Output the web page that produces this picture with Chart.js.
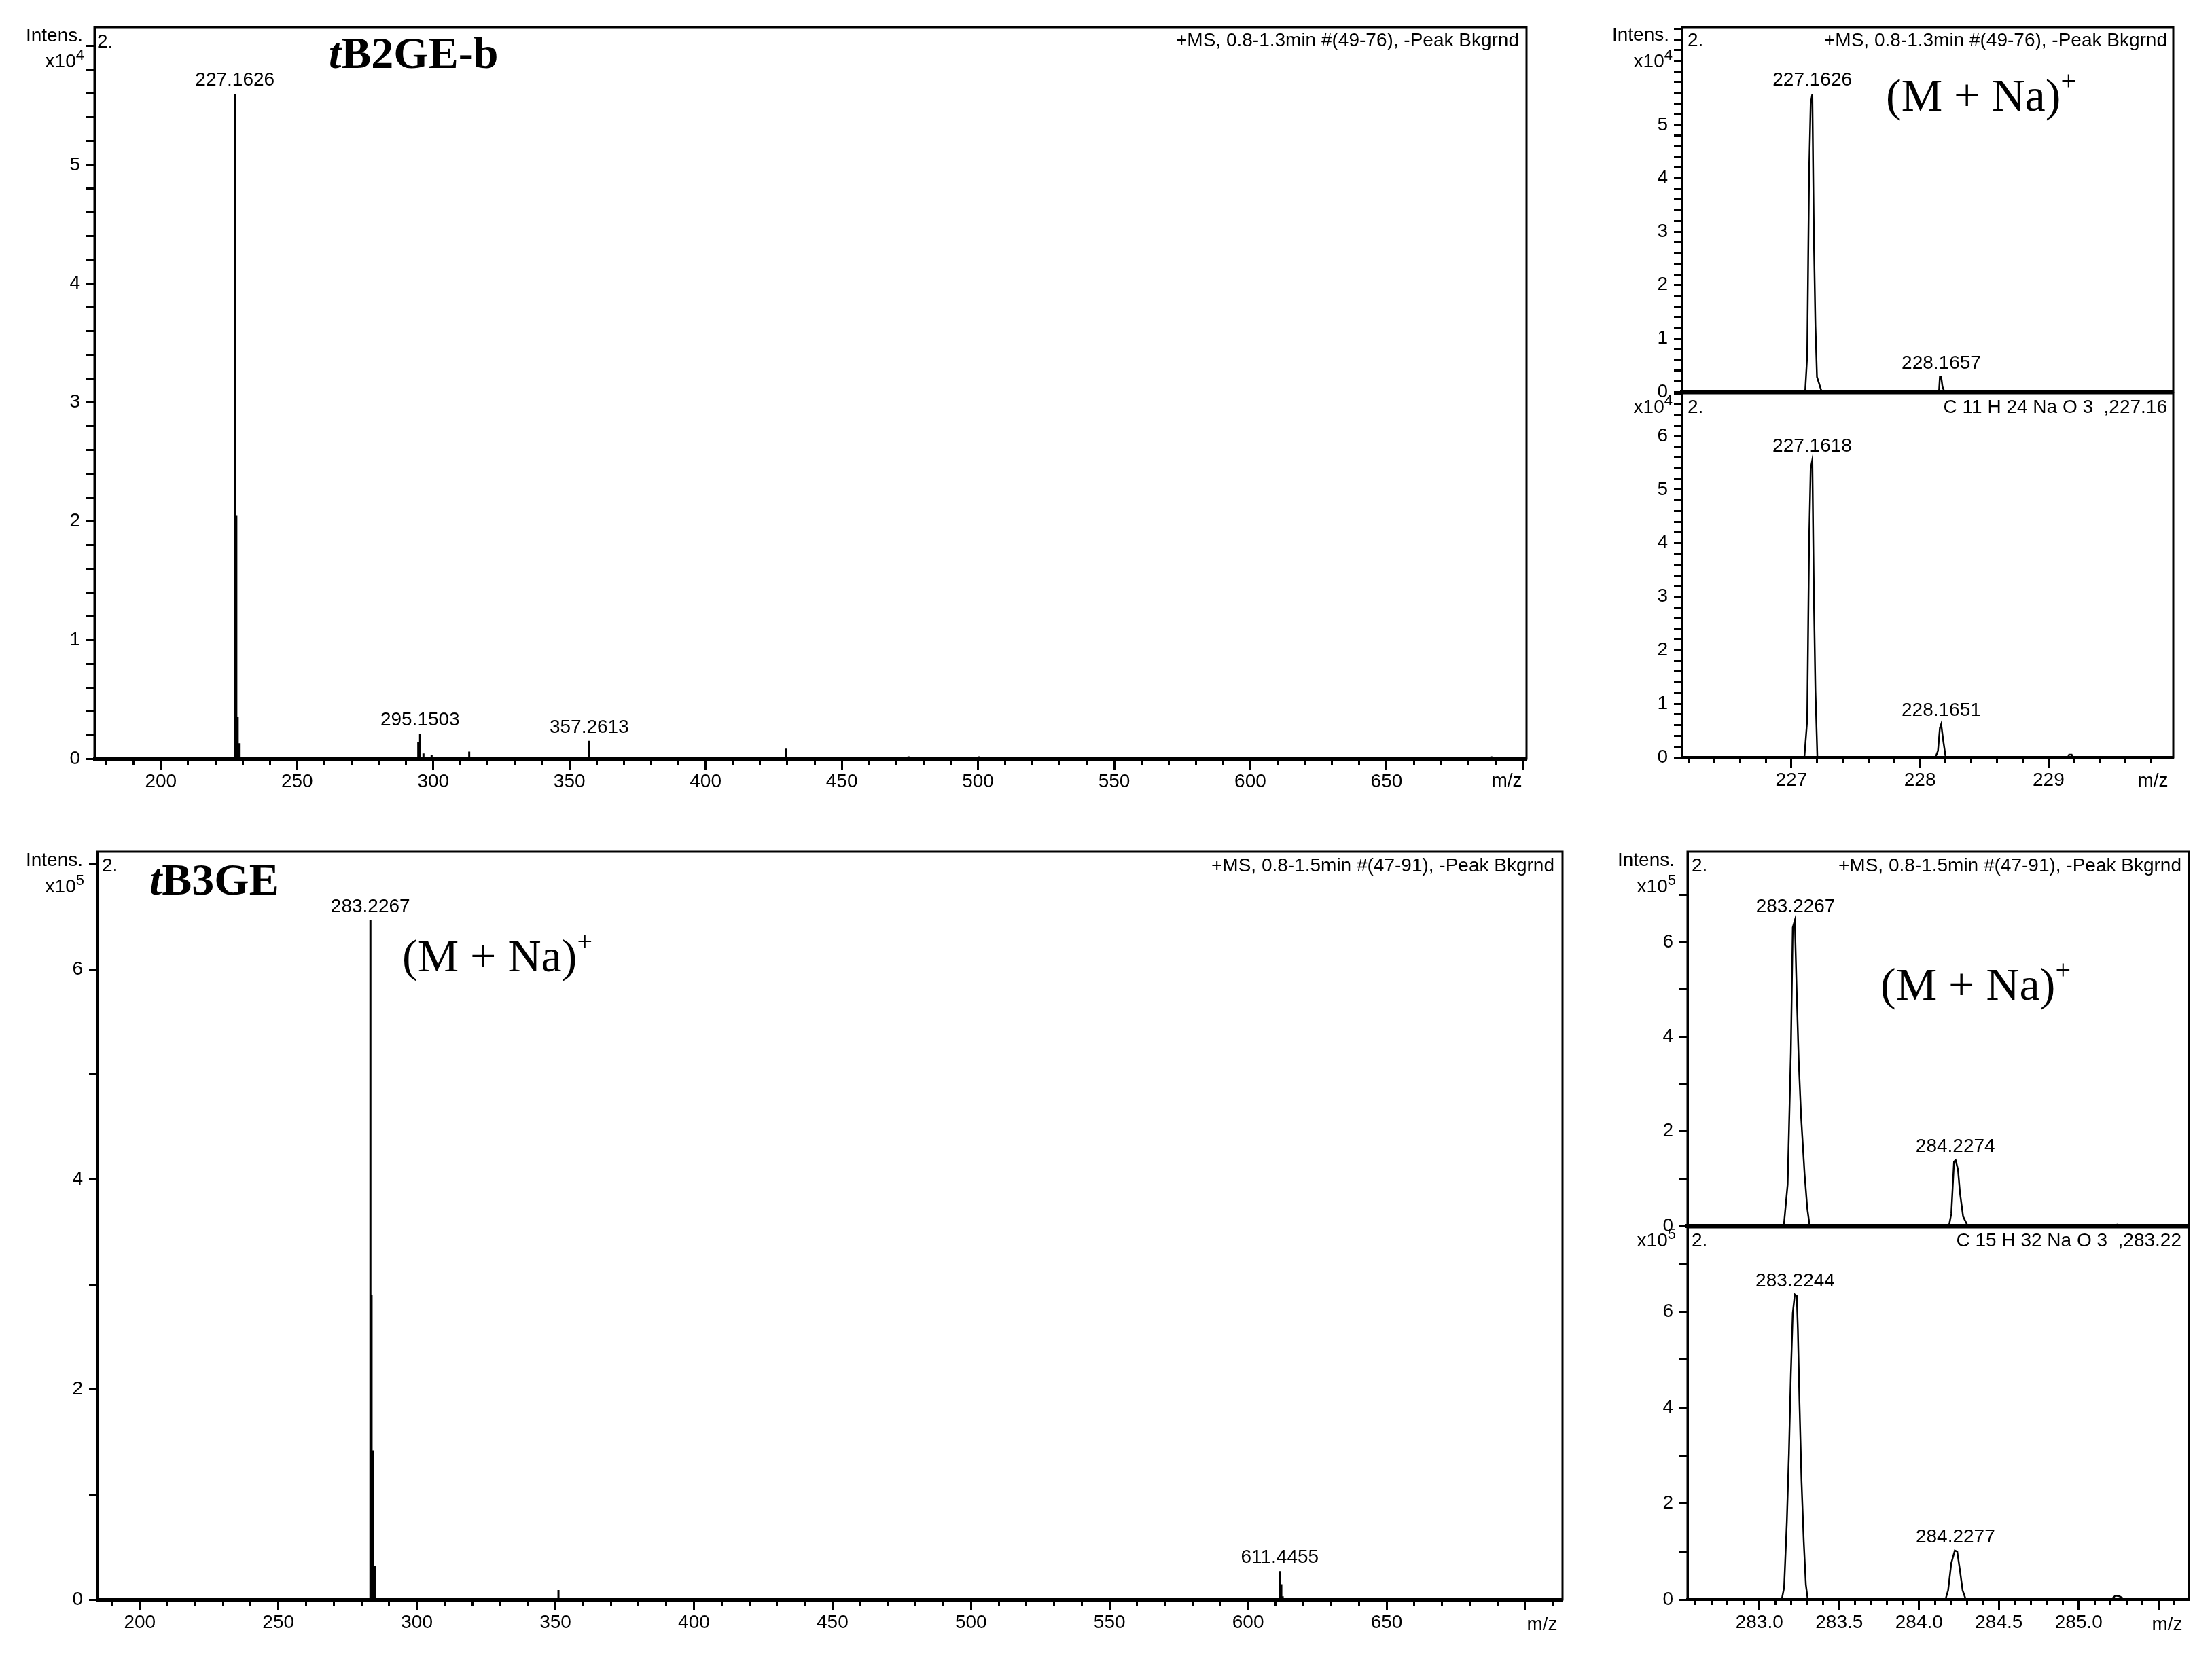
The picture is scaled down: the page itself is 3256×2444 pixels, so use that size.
<!DOCTYPE html>
<html>
<head>
<meta charset="utf-8">
<script src="https://cdn.jsdelivr.net/npm/chart.js@4.4.1/dist/chart.umd.min.js"></script>
<style>
  html, body { margin: 0; padding: 0; background: #fff; }
  #page { position: relative; width: 3256px; height: 2444px; overflow: hidden; background: #fff; }
  canvas { position: absolute; }
</style>
</head>
<body>
<div id="page"></div>
<script>
// ---- tB2GE-b, full scan (Intens. x10^4) ----
const mzA  = [227.16, 227.7, 228.2, 228.9, 273.3, 294.5, 295.15, 296.4, 298.0, 299.4, 313.2, 339.5, 343.5, 357.26, 358.3, 363.3, 429.4, 474.5, 500.3, 688.5];
const intA = [5.60, 2.05, 0.35, 0.13, 0.015, 0.14, 0.21, 0.045, 0.015, 0.03, 0.06, 0.017, 0.017, 0.15, 0.017, 0.017, 0.085, 0.02, 0.02, 0.02];
const labMzA  = [227.1626, 295.1503, 357.2613];
const labIntA = [5.60, 0.21, 0.15];

// ---- tB2GE-b, zoom measured (x10^4) ----
const mzB  = [227.107, 227.123, 227.138, 227.150, 227.163, 227.175, 227.187, 227.199, 227.236, 228.148, 228.155, 228.165, 228.175, 228.19];
const intB = [0, 0.68, 4.15, 5.40, 5.58, 2.87, 1.23, 0.28, 0, 0, 0.28, 0.28, 0.10, 0];
const labMzB  = [227.1626, 228.1657];
const labIntB = [5.58, 0.28];

// ---- tB2GE-b, simulated C11H24NaO3 (x10^4) ----
const mzC  = [227.101, 227.123, 227.138, 227.150, 227.163, 227.175, 227.187, 227.202, 228.12, 228.14, 228.155, 228.165, 228.18, 228.2, 229.15, 229.16, 229.18, 229.19];
const intC = [0, 0.70, 4.07, 5.40, 5.56, 2.99, 1.23, 0, 0, 0.12, 0.55, 0.62, 0.33, 0, 0, 0.05, 0.05, 0];
const labMzC  = [227.1618, 228.1651];
const labIntC = [5.56, 0.62];

// ---- tB3GE, full scan (x10^5) ----
const mzD  = [283.23, 283.65, 284.23, 285.0, 351.1, 355.2, 413.3, 611.45, 612.0, 612.5, 613.0];
const intD = [6.47, 2.90, 1.42, 0.32, 0.09, 0.02, 0.02, 0.27, 0.145, 0.03, 0.015];
const labMzD  = [283.2267, 611.4455];
const labIntD = [6.47, 0.27];

// ---- tB3GE, zoom measured (x10^5) ----
const mzE  = [283.153, 283.177, 283.185, 283.197, 283.209, 283.222, 283.234, 283.246, 283.261, 283.283, 283.300, 283.315,
              284.187, 284.202, 284.219, 284.229, 284.244, 284.256, 284.276, 284.305, 285.225, 285.24, 285.255];
const intE = [0, 0.88, 1.99, 3.66, 6.31, 6.46, 4.91, 3.52, 2.33, 1.10, 0.37, 0,
              0, 0.26, 1.36, 1.39, 1.19, 0.71, 0.20, 0, 0, 0.03, 0];
const labMzE  = [283.2267, 284.2274];
const labIntE = [6.46, 1.39];

// ---- tB3GE, simulated C15H32NaO3 (x10^5) ----
const mzF  = [283.140, 283.155, 283.172, 283.185, 283.197, 283.209, 283.222, 283.234, 283.241, 283.251, 283.264, 283.278, 283.291, 283.303,
              284.165, 284.182, 284.202, 284.224, 284.239, 284.256, 284.273, 284.293, 285.204, 285.229, 285.254, 285.29];
const intF = [0, 0.25, 1.62, 3.05, 4.69, 5.97, 6.36, 6.33, 5.64, 4.12, 2.46, 1.20, 0.31, 0,
              0, 0.19, 0.76, 1.02, 1.00, 0.61, 0.19, 0, 0, 0.08, 0.07, 0];
const labMzF  = [283.2244, 284.2277];
const labIntF = [6.36, 1.02];

const SANS = '"Liberation Sans", Arial, sans-serif';
const SERIF = '"Liberation Serif", "Times New Roman", serif';
Chart.defaults.font.family = SANS;
Chart.defaults.font.size = 28;
Chart.defaults.color = '#000';

const page = document.getElementById('page');

// text helpers
const txt = t => [{ t, f: '28px ' + SANS }];
const exp10 = e => [{ t: 'x10', f: '28px ' + SANS }, { t: e, f: '22px ' + SANS, dy: -9 }];
const ion = [{ t: '(M + Na)', f: '68px ' + SERIF }, { t: '+', f: '40px ' + SERIF, dy: -24 }];
const title = rest => [{ t: 't', f: 'italic bold 66px ' + SERIF }, { t: rest, f: 'bold 66px ' + SERIF }];

function drawRich(ctx, parts, x, y, align) {
  let w = 0;
  parts.forEach(p => { ctx.font = p.f; w += ctx.measureText(p.t).width; });
  let cx = align === 'right' ? x - w : align === 'center' ? x - w / 2 : x;
  ctx.textAlign = 'left';
  ctx.textBaseline = 'middle';
  parts.forEach(p => {
    ctx.font = p.f;
    ctx.fillText(p.t, cx, y + (p.dy || 0));
    cx += ctx.measureText(p.t).width;
  });
}

const textPlugin = {
  id: 'msText',
  afterDraw(chart, args, opts) {
    const ctx = chart.ctx;
    const a = chart.chartArea;
    ctx.save();
    ctx.strokeStyle = '#000';
    ctx.lineWidth = 3;
    ctx.strokeRect(a.left, a.top, a.right - a.left, a.bottom - a.top);
    ctx.fillStyle = '#000';
    (opts.items || []).forEach(it => drawRich(ctx, it.p, it.x - opts.ox, it.y - opts.oy, it.a));
    const xs = chart.scales.x, ys = chart.scales.y;
    ctx.font = '28px ' + SANS;
    ctx.textAlign = 'center';
    ctx.textBaseline = 'alphabetic';
    (opts.labMz || []).forEach((m, i) => {
      ctx.fillText(m.toFixed(4), xs.getPixelForValue(m), ys.getPixelForValue(opts.labInt[i]) - 12);
    });
    ctx.restore();
  }
};

function sticks(mz, inten, lo, hi) {
  const pts = [{ x: lo, y: 0 }];
  mz.forEach((m, i) => pts.push({ x: m, y: 0 }, { x: m, y: inten[i] }, { x: m, y: 0 }));
  pts.push({ x: hi, y: 0 });
  return pts;
}
function profile(mz, inten, lo, hi) {
  return [{ x: lo, y: 0 }].concat(mz.map((m, i) => ({ x: m, y: inten[i] })), [{ x: hi, y: 0 }]);
}
const near = (v, step) => Math.abs(v / step - Math.round(v / step)) < 1e-6;

function panel(box, area, o) {
  const cv = document.createElement('canvas');
  cv.width = box.w; cv.height = box.h;
  cv.style.left = box.x + 'px'; cv.style.top = box.y + 'px';
  cv.style.width = box.w + 'px'; cv.style.height = box.h + 'px';
  page.appendChild(cv);
  const yW = area.l - box.x;
  const xH = box.y + box.h - area.b;

  const xScale = {
    type: 'linear', min: o.x[0], max: o.x[1],
    afterFit: s => { s.height = xH; s.paddingLeft = 0; s.paddingRight = 0; },
    border: { display: true, color: '#000', width: o.xBorder }
  };
  if (o.xTicks) {
    Object.assign(xScale, {
      grid: {
        display: true, drawOnChartArea: false, drawTicks: true, tickLength: 16, tickWidth: 3, tickColor: '#000',
        tickBorderDash: c => (c.tick && near(c.tick.value, o.xMajor)) ? [] : [6, 400]
      },
      ticks: {
        stepSize: o.xStep, includeBounds: false, autoSkip: false, maxRotation: 0, minRotation: 0, padding: 1,
        color: '#000', font: { size: 28 },
        callback: v => (near(v, o.xMajor) && v < o.xHide) ? v.toFixed(o.xDec) : ''
      }
    });
  } else {
    Object.assign(xScale, { grid: { display: false, drawTicks: false }, ticks: { display: false } });
  }

  new Chart(cv.getContext('2d'), {
    type: 'line',
    data: {
      datasets: [{
        data: o.data, borderColor: '#000', borderWidth: o.lw, pointRadius: 0,
        tension: 0, fill: false
      }]
    },
    options: {
      responsive: false, animation: false, devicePixelRatio: 1,
      layout: { padding: { left: 0, top: area.t - box.y, right: box.x + box.w - area.r, bottom: 0 } },
      plugins: {
        legend: { display: false }, tooltip: { enabled: false },
        msText: { ox: box.x, oy: box.y, items: o.items, labMz: o.labMz, labInt: o.labInt }
      },
      scales: {
        x: xScale,
        y: {
          type: 'linear', min: 0, max: o.y[0],
          afterFit: s => { s.width = yW; s.paddingTop = 0; s.paddingBottom = 0; },
          border: { display: true, color: '#000', width: 3 },
          grid: { display: true, drawOnChartArea: false, drawTicks: true, tickLength: 12, tickWidth: 3, tickColor: '#000' },
          ticks: {
            stepSize: o.y[1], includeBounds: false, autoSkip: false, padding: 9, color: '#000', font: { size: 28 },
            callback: v => (near(v, o.y[2]) && v <= o.y[3] + 1e-6) ? String(Math.round(v)) : ''
          }
        }
      }
    },
    plugins: [textPlugin]
  });
}

const hdr2 = '+MS, 0.8-1.3min #(49-76), -Peak Bkgrnd';
const hdr3 = '+MS, 0.8-1.5min #(47-91), -Peak Bkgrnd';

// A: tB2GE-b full spectrum
panel({ x: 0, y: 0, w: 2270, h: 1200 }, { l: 139, t: 40, r: 2247, b: 1117 }, {
  data: sticks(mzA, intA, 175.6, 701.4), lw: 3,
  x: [175.6, 701.4], xTicks: true, xStep: 10, xMajor: 50, xHide: 700, xDec: 0, xBorder: 5,
  y: [6.16, 0.2, 1, 5],
  labMz: labMzA, labInt: labIntA,
  items: [
    { p: txt('Intens.'), x: 122, y: 53, a: 'right' },
    { p: exp10('4'), x: 124, y: 91, a: 'right' },
    { p: txt('2.'), x: 143, y: 62, a: 'left' },
    { p: txt(hdr2), x: 2236, y: 60, a: 'right' },
    { p: title('B2GE-b'), x: 484, y: 83, a: 'left' },
    { p: txt('m/z'), x: 2218, y: 1150, a: 'center' }
  ]
});

// B: tB2GE-b measured isotope pattern
panel({ x: 2330, y: 0, w: 926, h: 600 }, { l: 2476, t: 40, r: 3199, b: 577 }, {
  data: profile(mzB, intB, 226.15, 229.97), lw: 2.5,
  x: [226.15, 229.97], xTicks: false, xBorder: 6,
  y: [6.83, 0.2, 1, 5],
  labMz: labMzB, labInt: labIntB,
  items: [
    { p: txt('Intens.'), x: 2457, y: 52, a: 'right' },
    { p: exp10('4'), x: 2462, y: 91, a: 'right' },
    { p: txt('2.'), x: 2484, y: 60, a: 'left' },
    { p: txt(hdr2), x: 3190, y: 60, a: 'right' },
    { p: ion, x: 2776, y: 145, a: 'left' }
  ]
});

// C: C11H24NaO3 simulated
panel({ x: 2330, y: 560, w: 926, h: 660 }, { l: 2476, t: 579, r: 3199, b: 1115 }, {
  data: profile(mzC, intC, 226.15, 229.97), lw: 2.5,
  x: [226.15, 229.97], xTicks: true, xStep: 0.2, xMajor: 1, xHide: 229.5, xDec: 0, xBorder: 4,
  y: [6.8, 0.2, 1, 6],
  labMz: labMzC, labInt: labIntC,
  items: [
    { p: exp10('4'), x: 2462, y: 600, a: 'right' },
    { p: txt('2.'), x: 2484, y: 600, a: 'left' },
    { p: txt('C 11 H 24 Na O 3  ,227.16'), x: 3190, y: 600, a: 'right' },
    { p: txt('m/z'), x: 3169, y: 1150, a: 'center' }
  ]
});

// D: tB3GE full spectrum
panel({ x: 0, y: 1210, w: 2320, h: 1234 }, { l: 143, t: 1254, r: 2300, b: 2355 }, {
  data: sticks(mzD, intD, 184.6, 713.5), lw: 3,
  x: [184.6, 713.5], xTicks: true, xStep: 10, xMajor: 50, xHide: 700, xDec: 0, xBorder: 5,
  y: [7.12, 1, 2, 6],
  labMz: labMzD, labInt: labIntD,
  items: [
    { p: txt('Intens.'), x: 122, y: 1267, a: 'right' },
    { p: exp10('5'), x: 124, y: 1306, a: 'right' },
    { p: txt('2.'), x: 150, y: 1275, a: 'left' },
    { p: txt(hdr3), x: 2288, y: 1275, a: 'right' },
    { p: title('B3GE'), x: 220, y: 1300, a: 'left' },
    { p: ion, x: 592, y: 1412, a: 'left' },
    { p: txt('m/z'), x: 2270, y: 2392, a: 'center' }
  ]
});

// E: tB3GE measured isotope pattern
panel({ x: 2330, y: 1210, w: 926, h: 620 }, { l: 2484, t: 1254, r: 3222, b: 1805 }, {
  data: profile(mzE, intE, 282.55, 285.69), lw: 2.5,
  x: [282.55, 285.69], xTicks: false, xBorder: 6,
  y: [7.91, 1, 2, 6],
  labMz: labMzE, labInt: labIntE,
  items: [
    { p: txt('Intens.'), x: 2465, y: 1267, a: 'right' },
    { p: exp10('5'), x: 2467, y: 1306, a: 'right' },
    { p: txt('2.'), x: 2490, y: 1275, a: 'left' },
    { p: txt(hdr3), x: 3211, y: 1275, a: 'right' },
    { p: ion, x: 2768, y: 1454, a: 'left' }
  ]
});

// F: C15H32NaO3 simulated
panel({ x: 2330, y: 1770, w: 926, h: 674 }, { l: 2484, t: 1807, r: 3222, b: 2355 }, {
  data: profile(mzF, intF, 282.55, 285.69), lw: 2.5,
  x: [282.55, 285.69], xTicks: true, xStep: 0.1, xMajor: 0.5, xHide: 285.4, xDec: 1, xBorder: 4,
  y: [7.76, 1, 2, 6],
  labMz: labMzF, labInt: labIntF,
  items: [
    { p: exp10('5'), x: 2467, y: 1827, a: 'right' },
    { p: txt('2.'), x: 2490, y: 1827, a: 'left' },
    { p: txt('C 15 H 32 Na O 3  ,283.22'), x: 3211, y: 1827, a: 'right' },
    { p: txt('m/z'), x: 3190, y: 2392, a: 'center' }
  ]
});
</script>
</body>
</html>
